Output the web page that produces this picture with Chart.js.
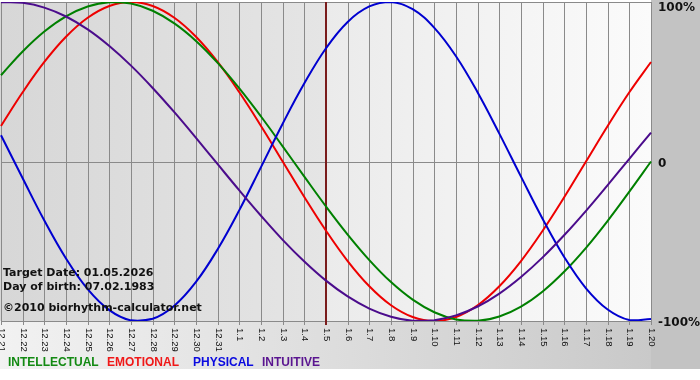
<!DOCTYPE html>
<html><head><meta charset="utf-8">
<script src="https://cdn.jsdelivr.net/npm/chart.js@4/dist/chart.umd.min.js"></script>
<style>html,body{margin:0;padding:0;background:#fff;}canvas{display:block;}</style>
</head><body>
<canvas id="c" width="700" height="380"></canvas>
<script>
const categories = ["12.21","12.22","12.23","12.24","12.25","12.26","12.27","12.28","12.29","12.30","12.31","1.1","1.2","1.3","1.4","1.5","1.6","1.7","1.8","1.9","1.10","1.11","1.12","1.13","1.14","1.15","1.16","1.17","1.18","1.19","1.20"];
const intellectual = [54.1,69.0,81.5,91.0,97.2,99.9,99.0,94.5,86.6,75.6,61.8,45.8,28.2,9.5,-9.5,-28.2,-45.8,-61.8,-75.6,-86.6,-94.5,-99.0,-99.9,-97.2,-91.0,-81.5,-69.0,-54.1,-37.2,-18.9,0.0];
const emotional = [22.3,43.4,62.4,78.2,90.1,97.5,100,97.5,90.1,78.2,62.4,43.4,22.3,0,-22.3,-43.4,-62.4,-78.2,-90.1,-97.5,-100,-97.5,-90.1,-78.2,-62.4,-43.4,-22.3,0,22.3,43.4,62.4];
const physical = [16.5,-10.5,-37.0,-60.8,-80.0,-93.2,-99.6,-98.6,-90.4,-75.5,-55.0,-30.5,-3.5,23.7,49.0,71.0,87.5,97.2,100,95.5,83.8,66.0,43.3,17.5,-9.5,-36.0,-60.0,-79.5,-92.8,-99.4,-98.8];
const intuitive = [99.8,99.5,96.5,90.9,82.8,72.4,60.1,46.1,30.9,14.8,-1.7,-18.1,-34.0,-49.1,-62.7,-74.7,-84.6,-92.2,-97.3,-99.8,-99.5,-96.5,-90.9,-82.8,-72.4,-60.1,-46.1,-30.9,-14.8,1.7,18.1];
const yTickLabels = [{v:100,t:"100%"},{v:0,t:"0"},{v:-100,t:"-100%"}];
const targetLabel = "1.5";
const infoLines = ["Target Date: 01.05.2026","Day of birth: 07.02.1983","©2010 biorhythm-calculator.net"];
const legendItems = [{t:"INTELLECTUAL",c:"#138a13"},{t:"EMOTIONAL",c:"#f01818"},{t:"PHYSICAL",c:"#0a0ae0"},{t:"INTUITIVE",c:"#5a1590"}];

const decor = {
  id:'decor',
  beforeDraw(chart){
    const ctx = chart.ctx, a = chart.chartArea, W = chart.width;
    ctx.save();
    ctx.fillStyle = '#fff'; ctx.fillRect(0,0,W,chart.height);
    let g = ctx.createLinearGradient(0,0,W,0);
    g.addColorStop(0,'#f2f2f2'); g.addColorStop(1,'#c6c6c6');
    ctx.fillStyle = g; ctx.fillRect(0,a.bottom,W,369-a.bottom);
    ctx.fillStyle = '#c3c3c3'; ctx.fillRect(a.right,0,W-a.right,369);
    g = ctx.createLinearGradient(a.left,0,a.right,0);
    g.addColorStop(0,'#d7d7d7'); g.addColorStop(0.5,'#e5e5e5'); g.addColorStop(0.5,'#ebebeb'); g.addColorStop(1,'#fbfbfb');
    ctx.fillStyle = g; ctx.fillRect(a.left-1,a.top,a.right-a.left+1,a.bottom-a.top);
    const xs = chart.scales.x, ys = chart.scales.y;
    ctx.strokeStyle = '#8a8a8a'; ctx.lineWidth = 1;
    ctx.beginPath();
    for (let i=0;i<categories.length;i++){
      const x = Math.round(xs.getPixelForValue(i))+0.5;
      ctx.moveTo(x,a.top); ctx.lineTo(x,a.bottom+4);
    }
    const y0 = Math.round(ys.getPixelForValue(0))+0.5;
    ctx.moveTo(a.left,y0); ctx.lineTo(a.right,y0);
    ctx.moveTo(a.left,a.top+0.5); ctx.lineTo(a.right,a.top+0.5);
    ctx.moveTo(a.left,a.bottom+0.5); ctx.lineTo(a.right,a.bottom+0.5);
    ctx.stroke();
    const ti = categories.indexOf(targetLabel);
    const tx = Math.round(xs.getPixelForValue(ti));
    ctx.fillStyle = '#7a1c1c'; ctx.fillRect(tx-1,a.top,2,a.bottom-a.top+4);
    ctx.restore();
  },
  afterDraw(chart){
    const ctx = chart.ctx, a = chart.chartArea;
    const xs = chart.scales.x, ys = chart.scales.y;
    ctx.save();
    ctx.fillStyle = '#111';
    ctx.font = '9.5px "Liberation Sans"';
    ctx.textBaseline = 'middle'; ctx.textAlign = 'left';
    for (let i=0;i<categories.length;i++){
      const x = xs.getPixelForValue(i);
      ctx.save(); ctx.translate(x+0.5,a.bottom+7); ctx.rotate(Math.PI/2);
      ctx.fillText(categories[i],0,0); ctx.restore();
    }
    ctx.font = 'bold 12px "DejaVu Sans"';
    ctx.fillStyle = '#111'; ctx.textAlign='left'; ctx.textBaseline='alphabetic';
    yTickLabels.forEach(o=>{
      let y = ys.getPixelForValue(o.v)+5;
      if (o.v===100) y = 11;
      ctx.fillText(o.t, a.right+7, y);
    });
    ctx.font = 'bold 11px "DejaVu Sans"';
    ctx.fillStyle = '#111';
    ctx.fillText(infoLines[0],3,276);
    ctx.fillText(infoLines[1],3,290);
    ctx.fillText(infoLines[2],3,311);
    ctx.font = 'bold 12px "Liberation Sans"';
    const lx = [8,107,193,262];
    legendItems.forEach((it,i)=>{
      ctx.fillStyle = it.c; ctx.fillText(it.t,lx[i],366);
    });
    ctx.restore();
  }
};

const mk = (label,data,color)=>({label,data,borderColor:color,borderWidth:2,pointRadius:0,tension:0.4,fill:false});
new Chart(document.getElementById('c'),{
  type:'line',
  data:{labels:categories,datasets:[
    mk('INTUITIVE',intuitive,'#4b0c8c'),
    mk('PHYSICAL',physical,'#0000d0'),
    mk('INTELLECTUAL',intellectual,'#008000'),
    mk('EMOTIONAL',emotional,'#ee0000')
  ]},
  options:{
    responsive:false, animation:false, devicePixelRatio:1,
    layout:{padding:{left:1,top:2,right:49,bottom:59}},
    plugins:{legend:{display:false},tooltip:{enabled:false}},
    scales:{
      x:{display:false,offset:false},
      y:{display:false,min:-100,max:100}
    }
  },
  plugins:[decor]
});
</script>
</body></html>
